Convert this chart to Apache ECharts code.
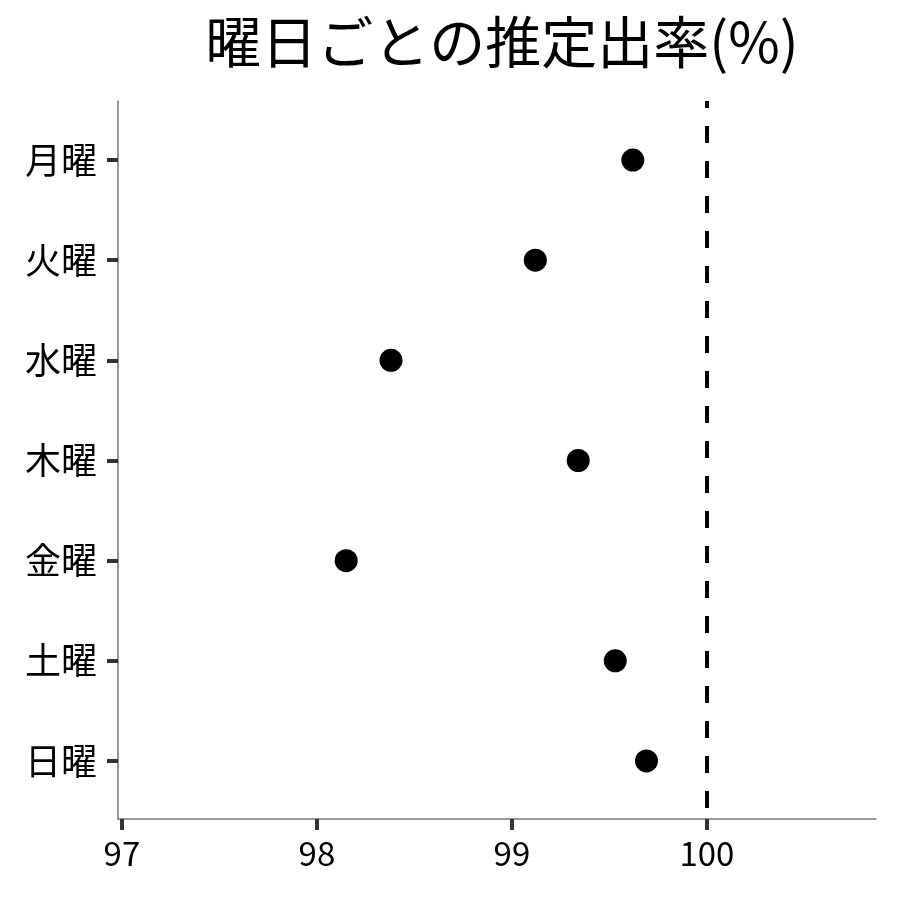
<!DOCTYPE html>
<html><head><meta charset="utf-8">
<script src="https://cdn.jsdelivr.net/npm/echarts@6/dist/echarts.min.js"></script>
<style>html,body{margin:0;padding:0;background:#fff}#c{width:900px;height:900px}</style>
</head><body><div id="c"></div>
<script>
const categories = ['月曜','火曜','水曜','木曜','金曜','土曜','日曜'];
const values = [99.62, 99.12, 98.38, 99.34, 98.15, 99.53, 99.69];
const xTicks = [97, 98, 99, 100];
const refLine = 100;
const titleText = '曜日ごとの推定出率(%)';

const font = '"Noto Sans CJK JP", "Noto Sans", sans-serif';
const chart = echarts.init(document.getElementById('c'));
chart.setOption({
  animation: false,
  title: {text: titleText, left: 497, top: 9, textAlign: 'center',
    textStyle: {fontFamily: font, fontSize: 56, fontWeight: 'normal', color: '#000'}},
  grid: {left: 118, right: 24, top: 101, bottom: 81, containLabel: false},
  xAxis: {type: 'value', min: 96.98, max: 100.867,
    splitLine: {show: false},
    axisLine: {show: true, onZero: false, lineStyle: {color: '#777', width: 1.5}},
    axisTick: {show: true, customValues: xTicks, length: 11, lineStyle: {color: '#333', width: 4}},
    axisLabel: {customValues: xTicks, color: '#000', fontSize: 33, fontFamily: font, margin: 18}},
  yAxis: {type: 'value', inverse: true, min: -0.59, max: 6.58,
    splitLine: {show: false},
    axisLine: {show: true, onZero: false, lineStyle: {color: '#777', width: 1.5}},
    axisTick: {show: true, customValues: categories.map((c, i) => i), length: 11, lineStyle: {color: '#333', width: 4}},
    axisLabel: {customValues: categories.map((c, i) => i), formatter: v => categories[Math.round(v)] || '',
      color: '#000', fontSize: 36, fontFamily: font, margin: 21}},
  series: [{
    type: 'scatter',
    data: values.map((v, i) => [v, i]),
    symbolSize: 23,
    itemStyle: {color: '#000', opacity: 1},
    markLine: {silent: true, symbol: 'none', label: {show: false},
      lineStyle: {color: '#000', width: 4, type: [17, 18], dashOffset: 10, opacity: 1},
      data: [{xAxis: refLine}]}
  }]
});
</script></body></html>
